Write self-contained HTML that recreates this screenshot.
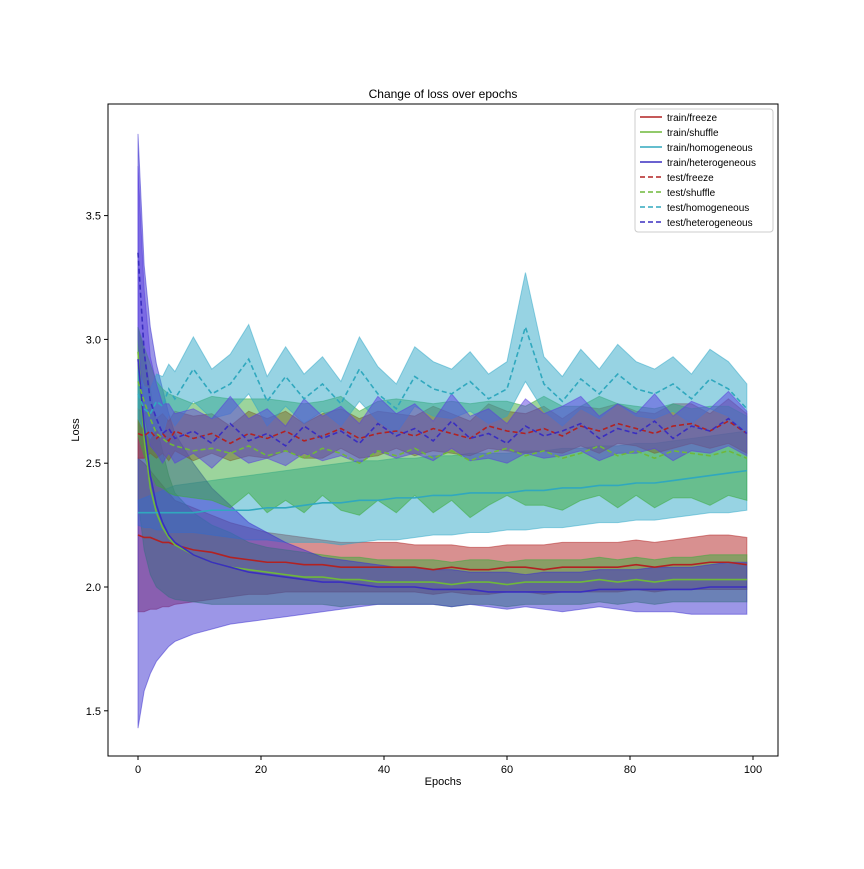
<!DOCTYPE html>
<html><head><meta charset="utf-8"><style>
body{margin:0;background:#fff}
svg{font-family:"Liberation Sans","DejaVu Sans",sans-serif}
</style></head><body>
<svg id="chart" width="864" height="864">
<rect width="864" height="864" fill="#fff"/>
<text x="443" y="98" text-anchor="middle" font-size="12">Change of loss over epochs</text>
<text x="443" y="785" text-anchor="middle" font-size="11">Epochs</text>
<text transform="translate(79,430) rotate(-90)" text-anchor="middle" font-size="11">Loss</text>
<g id="bands"></g><g id="lines"></g><g id="axes"></g><g id="legend"></g>
</svg>
<script>
const epochs=[0,1,2,3,4,5,6,9,12,15,18,21,24,27,30,33,36,39,42,45,48,51,54,57,60,63,66,69,72,75,78,81,84,87,90,93,96,99];
const xTicks=[0,20,40,60,80,100];
const yTicks=[1.5,2.0,2.5,3.0,3.5];
const trainFreeze=[2.21,2.20,2.20,2.19,2.18,2.18,2.17,2.15,2.14,2.12,2.11,2.10,2.10,2.09,2.09,2.08,2.08,2.08,2.08,2.08,2.07,2.08,2.07,2.07,2.08,2.08,2.07,2.08,2.08,2.08,2.08,2.09,2.08,2.09,2.09,2.10,2.10,2.09];
const trainFreezeLo=[1.90,1.90,1.91,1.91,1.92,1.92,1.93,1.94,1.95,1.96,1.97,1.97,1.98,1.98,1.98,1.98,1.98,1.98,1.98,1.98,1.97,1.98,1.97,1.97,1.98,1.98,1.97,1.98,1.98,1.98,1.98,1.99,1.98,1.99,1.99,1.99,1.99,1.99];
const trainFreezeHi=[2.52,2.50,2.47,2.44,2.41,2.38,2.35,2.32,2.29,2.26,2.24,2.22,2.21,2.20,2.19,2.18,2.18,2.18,2.18,2.17,2.17,2.17,2.16,2.16,2.17,2.17,2.17,2.18,2.18,2.18,2.18,2.19,2.18,2.19,2.20,2.21,2.21,2.20];
const trainShuffle=[2.95,2.60,2.40,2.30,2.24,2.20,2.17,2.13,2.10,2.08,2.07,2.06,2.05,2.04,2.04,2.03,2.03,2.02,2.02,2.02,2.02,2.01,2.02,2.02,2.01,2.02,2.02,2.02,2.02,2.03,2.02,2.03,2.02,2.03,2.03,2.03,2.03,2.03];
const trainShuffleLo=[2.35,2.15,2.05,2.00,1.98,1.96,1.95,1.94,1.93,1.93,1.93,1.93,1.93,1.93,1.93,1.92,1.93,1.93,1.93,1.93,1.93,1.92,1.93,1.93,1.92,1.93,1.93,1.93,1.93,1.94,1.93,1.94,1.93,1.94,1.94,1.94,1.94,1.94];
const trainShuffleHi=[3.05,2.95,2.80,2.65,2.55,2.45,2.38,2.30,2.25,2.22,2.18,2.16,2.15,2.14,2.13,2.12,2.12,2.11,2.11,2.11,2.11,2.10,2.11,2.11,2.10,2.11,2.11,2.11,2.11,2.12,2.11,2.12,2.11,2.12,2.12,2.13,2.13,2.13];
const trainHomo=[2.30,2.30,2.30,2.30,2.30,2.30,2.30,2.30,2.31,2.31,2.31,2.32,2.32,2.33,2.34,2.34,2.35,2.35,2.36,2.36,2.37,2.37,2.38,2.38,2.38,2.39,2.39,2.40,2.40,2.41,2.41,2.42,2.42,2.43,2.44,2.45,2.46,2.47];
const trainHomoLo=[2.25,2.24,2.24,2.23,2.23,2.22,2.22,2.22,2.21,2.20,2.19,2.19,2.18,2.18,2.18,2.17,2.18,2.19,2.19,2.20,2.21,2.21,2.22,2.22,2.23,2.23,2.24,2.24,2.25,2.26,2.26,2.27,2.27,2.28,2.29,2.30,2.30,2.31];
const trainHomoHi=[2.35,2.36,2.37,2.38,2.39,2.40,2.41,2.42,2.43,2.44,2.45,2.46,2.47,2.48,2.49,2.50,2.51,2.51,2.52,2.52,2.53,2.53,2.54,2.54,2.54,2.55,2.55,2.56,2.56,2.57,2.57,2.58,2.58,2.59,2.60,2.61,2.62,2.63];
const trainHetero=[2.92,2.65,2.45,2.33,2.26,2.21,2.18,2.13,2.10,2.08,2.06,2.05,2.04,2.03,2.02,2.02,2.01,2.00,2.00,2.00,1.99,1.99,1.99,1.98,1.98,1.98,1.98,1.98,1.98,1.99,1.99,1.99,1.99,1.99,1.99,2.00,2.00,2.00];
const trainHeteroLo=[1.43,1.58,1.65,1.70,1.73,1.76,1.78,1.81,1.83,1.85,1.86,1.87,1.88,1.89,1.90,1.91,1.92,1.93,1.93,1.93,1.93,1.92,1.93,1.92,1.91,1.92,1.91,1.90,1.91,1.92,1.91,1.90,1.90,1.90,1.89,1.89,1.89,1.89];
const trainHeteroHi=[3.83,3.30,3.05,2.90,2.80,2.70,2.62,2.50,2.40,2.33,2.26,2.22,2.18,2.15,2.12,2.11,2.10,2.09,2.08,2.08,2.07,2.07,2.06,2.06,2.06,2.05,2.06,2.06,2.06,2.07,2.07,2.07,2.08,2.08,2.08,2.09,2.10,2.10];
const testFreeze=[2.62,2.61,2.63,2.60,2.62,2.59,2.63,2.60,2.62,2.58,2.62,2.60,2.63,2.59,2.61,2.64,2.60,2.62,2.63,2.61,2.64,2.62,2.60,2.65,2.63,2.62,2.64,2.61,2.65,2.63,2.66,2.64,2.62,2.65,2.66,2.63,2.67,2.62];
const testFreezeSd=[0.10,0.09,0.09,0.08,0.08,0.08,0.08,0.09,0.08,0.07,0.09,0.08,0.08,0.07,0.09,0.08,0.08,0.09,0.07,0.08,0.09,0.08,0.07,0.09,0.08,0.08,0.09,0.07,0.08,0.09,0.08,0.07,0.08,0.09,0.08,0.07,0.09,0.08];
const testShuffle=[2.83,2.75,2.68,2.62,2.60,2.58,2.57,2.55,2.56,2.54,2.57,2.53,2.55,2.52,2.56,2.54,2.50,2.55,2.53,2.56,2.52,2.55,2.51,2.54,2.56,2.53,2.55,2.52,2.54,2.57,2.53,2.55,2.52,2.55,2.54,2.53,2.55,2.52];
const testShuffleSd=[0.22,0.22,0.22,0.21,0.20,0.20,0.20,0.19,0.21,0.22,0.19,0.23,0.20,0.22,0.19,0.23,0.21,0.20,0.23,0.19,0.22,0.20,0.23,0.21,0.19,0.20,0.22,0.21,0.19,0.20,0.21,0.18,0.20,0.19,0.18,0.20,0.18,0.17];
const testHomo=[2.78,2.72,2.70,2.75,2.73,2.80,2.76,2.88,2.78,2.82,2.92,2.75,2.85,2.76,2.82,2.74,2.88,2.78,2.72,2.85,2.80,2.78,2.83,2.76,2.80,3.05,2.82,2.75,2.84,2.78,2.86,2.80,2.78,2.82,2.76,2.84,2.80,2.72];
const testHomoSd=[0.10,0.09,0.10,0.11,0.12,0.10,0.11,0.13,0.10,0.12,0.14,0.10,0.12,0.10,0.11,0.09,0.13,0.11,0.10,0.12,0.11,0.10,0.12,0.10,0.11,0.22,0.11,0.10,0.12,0.10,0.12,0.11,0.10,0.11,0.10,0.12,0.11,0.10];
const testHetero=[3.35,2.95,2.75,2.68,2.62,2.64,2.60,2.63,2.58,2.66,2.59,2.62,2.57,2.65,2.60,2.63,2.58,2.66,2.61,2.64,2.59,2.67,2.60,2.62,2.58,2.65,2.61,2.63,2.66,2.60,2.64,2.62,2.67,2.60,2.65,2.63,2.68,2.62];
const testHeteroSd=[0.35,0.25,0.18,0.14,0.12,0.10,0.10,0.09,0.10,0.11,0.09,0.10,0.08,0.11,0.09,0.10,0.08,0.11,0.09,0.10,0.08,0.11,0.09,0.10,0.08,0.11,0.09,0.10,0.11,0.09,0.10,0.08,0.11,0.09,0.10,0.09,0.11,0.09];

const NS="http://www.w3.org/2000/svg";
const L=108,R=778,T=104,B=756;
const xs=v=>138+v*6.15;
const ys=v=>587-(v-2.0)*247.6;
function mk(tag,attrs,parent){const e=document.createElementNS(NS,tag);for(const k in attrs)e.setAttribute(k,attrs[k]);parent.appendChild(e);return e;}
const series=[
 {name:"train/freeze",c:"#b22222",f:"#b22222",m:trainFreeze,lo:trainFreezeLo,hi:trainFreezeHi,d:false},
 {name:"train/shuffle",c:"#6fb83a",f:"#3aaa3a",m:trainShuffle,lo:trainShuffleLo,hi:trainShuffleHi,d:false},
 {name:"train/homogeneous",c:"#30a8be",f:"#30a8c8",m:trainHomo,lo:trainHomoLo,hi:trainHomoHi,d:false},
 {name:"train/heterogeneous",c:"#3a2ec0",f:"#3a2ed0",m:trainHetero,lo:trainHeteroLo,hi:trainHeteroHi,d:false},
 {name:"test/freeze",c:"#b22222",f:"#b22222",m:testFreeze,sd:testFreezeSd,d:true},
 {name:"test/shuffle",c:"#6fb83a",f:"#3aaa3a",m:testShuffle,sd:testShuffleSd,d:true},
 {name:"test/homogeneous",c:"#30a8be",f:"#30a8c8",m:testHomo,sd:testHomoSd,d:true},
 {name:"test/heterogeneous",c:"#3a2ec0",f:"#5a3ee0",m:testHetero,sd:testHeteroSd,d:true}
];
const bands=document.getElementById('bands'),lines=document.getElementById('lines'),axes=document.getElementById('axes'),leg=document.getElementById('legend');
series.forEach(s=>{
 const lo=s.lo||s.m.map((v,i)=>v-s.sd[i]);
 const hi=s.hi||s.m.map((v,i)=>v+s.sd[i]);
 let p=epochs.map((e,i)=>xs(e)+","+ys(hi[i])).join(" ")+" "+epochs.map((e,i)=>xs(e)+","+ys(lo[i])).reverse().join(" ");
 const b=mk('polygon',{points:p,fill:s.f,'fill-opacity':0.5,stroke:s.f,'stroke-opacity':0.5},bands);
 
 
});
series.forEach(s=>{
 const l=mk('polyline',{points:epochs.map((e,i)=>xs(e)+","+ys(s.m[i])).join(" "),fill:"none",stroke:s.c,'stroke-width':1.6,'stroke-dasharray':s.d?"5,3":"none"},lines);
 
 
});
const frame=mk('rect',{x:L,y:T,width:R-L,height:B-T,fill:"none",stroke:"#000","stroke-width":1},axes);


xTicks.forEach(t=>{
 mk('line',{x1:xs(t),x2:xs(t),y1:B,y2:B+4,stroke:"#000"},axes);
 const tx=mk('text',{x:xs(t),y:B+17,'text-anchor':'middle','font-size':11},axes);
 tx.textContent=t;
 
 
});
yTicks.forEach(t=>{
 mk('line',{x1:L-4,x2:L,y1:ys(t),y2:ys(t),stroke:"#000"},axes);
 const tx=mk('text',{x:L-7,y:ys(t)+4,'text-anchor':'end','font-size':11},axes);
 tx.textContent=t.toFixed(1);
 
 
});
const lb=mk('rect',{x:635,y:109,width:138,height:123,rx:3,fill:"#fff",'fill-opacity':0.85,stroke:"#ccc"},leg);


series.forEach((s,i)=>{
 const y=117+i*15;
 const g=mk('g',{},leg);
 
 
 mk('line',{x1:640,x2:662,y1:y,y2:y,stroke:s.c,'stroke-width':1.6,'stroke-dasharray':s.d?"5,3":"none"},g);
 const t=mk('text',{x:667,y:y+4,'font-size':10},g);
 t.textContent=s.name;
});
</script>
</body></html>
